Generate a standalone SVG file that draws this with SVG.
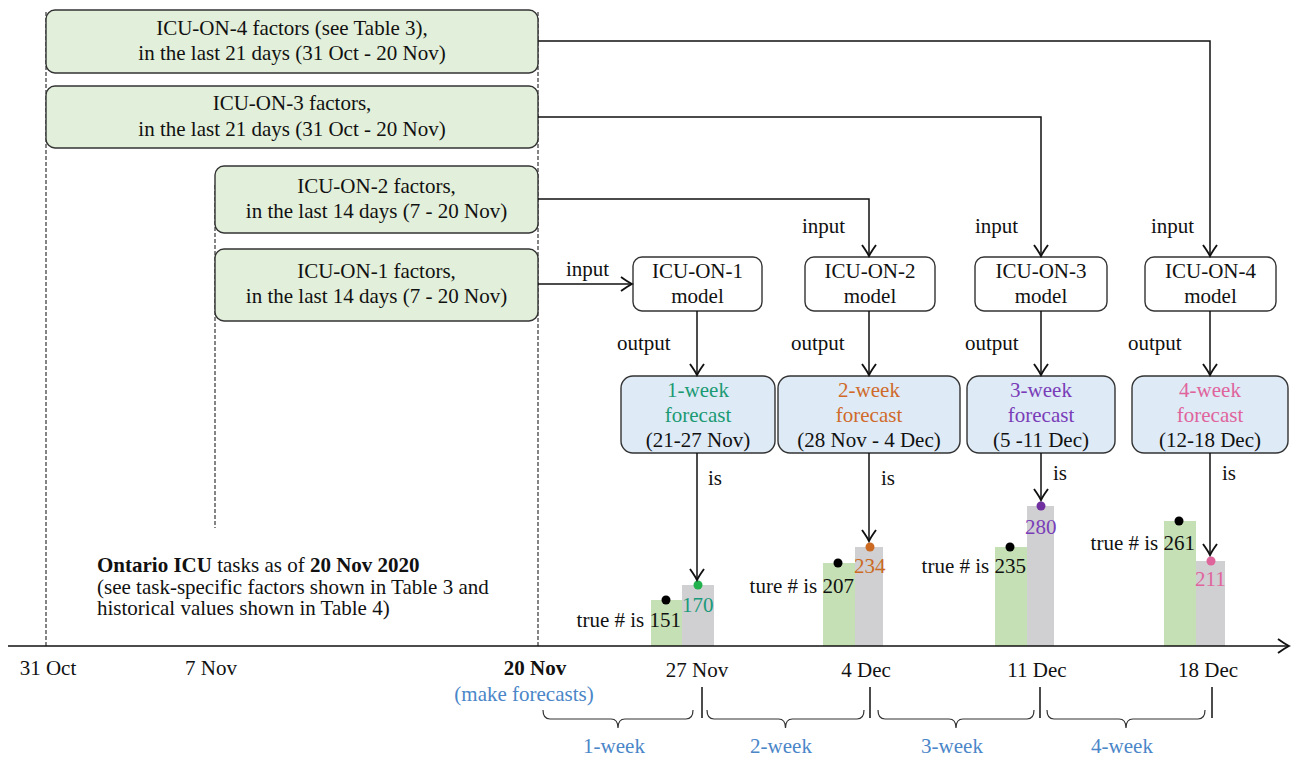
<svg xmlns="http://www.w3.org/2000/svg" width="1301" height="758" viewBox="0 0 1301 758">
<defs>
<style>
text{font-family:"Liberation Serif","Times New Roman",serif;font-size:21px;fill:#111}
.c{text-anchor:middle}
.e{text-anchor:end}
.b{font-weight:bold}
.gbox{fill:#e2efda;stroke:#333;stroke-width:1.4}
.mbox{fill:#fff;stroke:#333;stroke-width:1.4}
.fbox{fill:#deeaf6;stroke:#333;stroke-width:1.4}
.dash{stroke:#222;stroke-width:1.1;stroke-dasharray:4 2;fill:none}
.ln{stroke:#111;stroke-width:1.5;fill:none}
.arr{stroke:#111;stroke-width:1.5;fill:none;marker-end:url(#ah)}
.blue{fill:#4a86c8}
.gbar{fill:#c5e0b4}
.gray{fill:#d0cfd2}
.brace{stroke:#333;stroke-width:1.2;fill:none}
</style>
<marker id="ah" viewBox="-13 -8 15 16" refX="0" refY="0" markerWidth="15" markerHeight="16" markerUnits="userSpaceOnUse" orient="auto">
<path d="M-11,-7 Q-4,-2 0,0 Q-4,2 -11,7" fill="none" stroke="#111" stroke-width="1.9"/>
</marker>
</defs>
<rect width="1301" height="758" fill="#fff"/>

<g id="guides">
<line class="dash" x1="46" y1="12" x2="46" y2="646"/>
<line class="dash" x1="538" y1="12" x2="538" y2="646"/>
<line class="dash" x1="215" y1="185" x2="215" y2="528"/>
</g>

<g id="bars">
<rect class="gbar" x="651" y="600" width="31" height="46"/>
<rect class="gray" x="682" y="585" width="32" height="61"/>
<rect class="gbar" x="823" y="563" width="32" height="83"/>
<rect class="gray" x="855" y="547" width="28" height="99"/>
<rect class="gbar" x="995" y="547" width="32" height="99"/>
<rect class="gray" x="1027" y="506" width="27" height="140"/>
<rect class="gbar" x="1164" y="521" width="32" height="125"/>
<rect class="gray" x="1196" y="561" width="29" height="85"/>
<circle cx="666" cy="600" r="4.5" fill="#000"/>
<circle cx="698" cy="585" r="4.5" fill="#22b14c"/>
<circle cx="838" cy="563" r="4.5" fill="#000"/>
<circle cx="870" cy="547" r="4.5" fill="#cc6a22"/>
<circle cx="1010" cy="547" r="4.5" fill="#000"/>
<circle cx="1041" cy="506" r="4.5" fill="#7030a0"/>
<circle cx="1179" cy="521" r="4.5" fill="#000"/>
<circle cx="1211" cy="561" r="4.5" fill="#e0649c"/>
<text class="e" x="681" y="627">true # is 151</text>
<text x="682" y="612" style="fill:#1a9a7a">170</text>
<text class="e" x="854" y="593">ture # is 207</text>
<text x="854" y="573" style="fill:#cc6a22">234</text>
<text class="e" x="1026" y="573">true # is 235</text>
<text x="1025" y="534" style="fill:#7a3db8">280</text>
<text class="e" x="1195" y="550">true # is 261</text>
<text x="1195" y="586" style="fill:#e0649c">211</text>
</g>

<g id="factors4">
<rect class="gbox" x="46" y="10" width="492" height="63" rx="9"/>
<text class="c" x="292" y="35">ICU-ON-4 factors (see Table 3),</text>
<text class="c" x="292" y="60">in the last 21 days (31 Oct - 20 Nov)</text>
</g>
<g id="factors3">
<rect class="gbox" x="46" y="86" width="492" height="62" rx="9"/>
<text class="c" x="292" y="110">ICU-ON-3 factors,</text>
<text class="c" x="292" y="136">in the last 21 days (31 Oct - 20 Nov)</text>
</g>
<g id="factors2">
<rect class="gbox" x="215" y="166" width="323" height="67" rx="9"/>
<text class="c" x="376.5" y="193">ICU-ON-2 factors,</text>
<text class="c" x="376.5" y="218">in the last 14 days (7 - 20 Nov)</text>
</g>
<g id="factors1">
<rect class="gbox" x="215" y="249" width="323" height="72" rx="9"/>
<text class="c" x="376.5" y="278">ICU-ON-1 factors,</text>
<text class="c" x="376.5" y="303">in the last 14 days (7 - 20 Nov)</text>
</g>

<g id="model1">
<rect class="mbox" x="633" y="257" width="129" height="54" rx="9"/>
<text class="c" x="697.5" y="278">ICU-ON-1</text>
<text class="c" x="697.5" y="303">model</text>
</g>
<g id="model2">
<rect class="mbox" x="805" y="257" width="130" height="54" rx="9"/>
<text class="c" x="870" y="278">ICU-ON-2</text>
<text class="c" x="870" y="303">model</text>
</g>
<g id="model3">
<rect class="mbox" x="975" y="257" width="132" height="54" rx="9"/>
<text class="c" x="1041" y="278">ICU-ON-3</text>
<text class="c" x="1041" y="303">model</text>
</g>
<g id="model4">
<rect class="mbox" x="1145" y="257" width="131" height="54" rx="9"/>
<text class="c" x="1210.5" y="278">ICU-ON-4</text>
<text class="c" x="1210.5" y="303">model</text>
</g>

<g id="forecast1">
<rect class="fbox" x="621" y="376" width="154" height="77" rx="12"/>
<text class="c" x="698" y="397" style="fill:#1a9a73">1-week</text>
<text class="c" x="698" y="422" style="fill:#1a9a73">forecast</text>
<text class="c" x="698" y="447">(21-27 Nov)</text>
</g>
<g id="forecast2">
<rect class="fbox" x="778" y="376" width="182" height="77" rx="12"/>
<text class="c" x="869" y="397" style="fill:#d06a2a">2-week</text>
<text class="c" x="869" y="422" style="fill:#d06a2a">forecast</text>
<text class="c" x="869" y="447">(28 Nov - 4 Dec)</text>
</g>
<g id="forecast3">
<rect class="fbox" x="967" y="376" width="148" height="77" rx="12"/>
<text class="c" x="1041" y="397" style="fill:#7a3db8">3-week</text>
<text class="c" x="1041" y="422" style="fill:#7a3db8">forecast</text>
<text class="c" x="1041" y="447">(5 -11 Dec)</text>
</g>
<g id="forecast4">
<rect class="fbox" x="1132" y="376" width="156" height="77" rx="12"/>
<text class="c" x="1210" y="397" style="fill:#e0649c">4-week</text>
<text class="c" x="1210" y="422" style="fill:#e0649c">forecast</text>
<text class="c" x="1210" y="447">(12-18 Dec)</text>
</g>

<g id="connectors">
<path class="arr" d="M538,41 H1210 V256"/>
<path class="arr" d="M538,117 H1041 V256"/>
<path class="arr" d="M538,199 H869 V256"/>
<path class="arr" d="M538,284 H632"/>
<path class="arr" d="M697,311 V375"/>
<path class="arr" d="M869,311 V375"/>
<path class="arr" d="M1041,311 V375"/>
<path class="arr" d="M1210,311 V375"/>
<path class="arr" d="M697,453 V580"/>
<path class="arr" d="M869,453 V541"/>
<path class="arr" d="M1041,453 V500"/>
<path class="arr" d="M1210,453 V555"/>
<text x="566" y="276">input</text>
<text x="802" y="233">input</text>
<text x="975" y="233">input</text>
<text x="1151" y="233">input</text>
<text x="617" y="350">output</text>
<text x="791" y="350">output</text>
<text x="965" y="350">output</text>
<text x="1128" y="350">output</text>
<text x="708" y="485">is</text>
<text x="881" y="485">is</text>
<text x="1053" y="480">is</text>
<text x="1222" y="480">is</text>
</g>

<g id="axis">
<path class="arr" d="M8,646 H1289"/>
<text class="c" x="48" y="675">31 Oct</text>
<text class="c" x="211" y="675">7 Nov</text>
<text class="c b" x="535" y="675">20 Nov</text>
<text class="c blue" x="524" y="701">(make forecasts)</text>
<text class="c" x="697" y="677">27 Nov</text>
<text class="c" x="866" y="677">4 Dec</text>
<text class="c" x="1037" y="677">11 Dec</text>
<text class="c" x="1208" y="677">18 Dec</text>
<line class="ln" x1="702" y1="687" x2="702" y2="718" stroke-width="1.2"/>
<line class="ln" x1="870" y1="687" x2="870" y2="718" stroke-width="1.2"/>
<line class="ln" x1="1040" y1="687" x2="1040" y2="718" stroke-width="1.2"/>
<line class="ln" x1="1212" y1="687" x2="1212" y2="718" stroke-width="1.2"/>
</g>

<g id="braces">
<path class="brace" d="M543,710 Q543,719 550,719 H611 Q618,719 618,728 Q618,719 625,719 H686 Q693,719 693,710"/>
<path class="brace" d="M707,710 Q707,719 714,719 H778.5 Q785.5,719 785.5,728 Q785.5,719 792.5,719 H857 Q864,719 864,710"/>
<path class="brace" d="M878,710 Q878,719 885,719 H949 Q956,719 956,728 Q956,719 963,719 H1027 Q1034,719 1034,710"/>
<path class="brace" d="M1047,710 Q1047,719 1054,719 H1119 Q1126,719 1126,728 Q1126,719 1133,719 H1198 Q1205,719 1205,710"/>
<text class="c blue" x="614" y="753">1-week</text>
<text class="c blue" x="781" y="753">2-week</text>
<text class="c blue" x="952" y="753">3-week</text>
<text class="c blue" x="1122" y="753">4-week</text>
</g>

<g id="task-note">
<text x="97" y="572"><tspan class="b">Ontario ICU</tspan> tasks as of <tspan class="b">20 Nov 2020</tspan></text>
<text x="97" y="593.5">(see task-specific factors shown in Table 3 and</text>
<text x="97" y="615">historical values shown in Table 4)</text>
</g>
</svg>
